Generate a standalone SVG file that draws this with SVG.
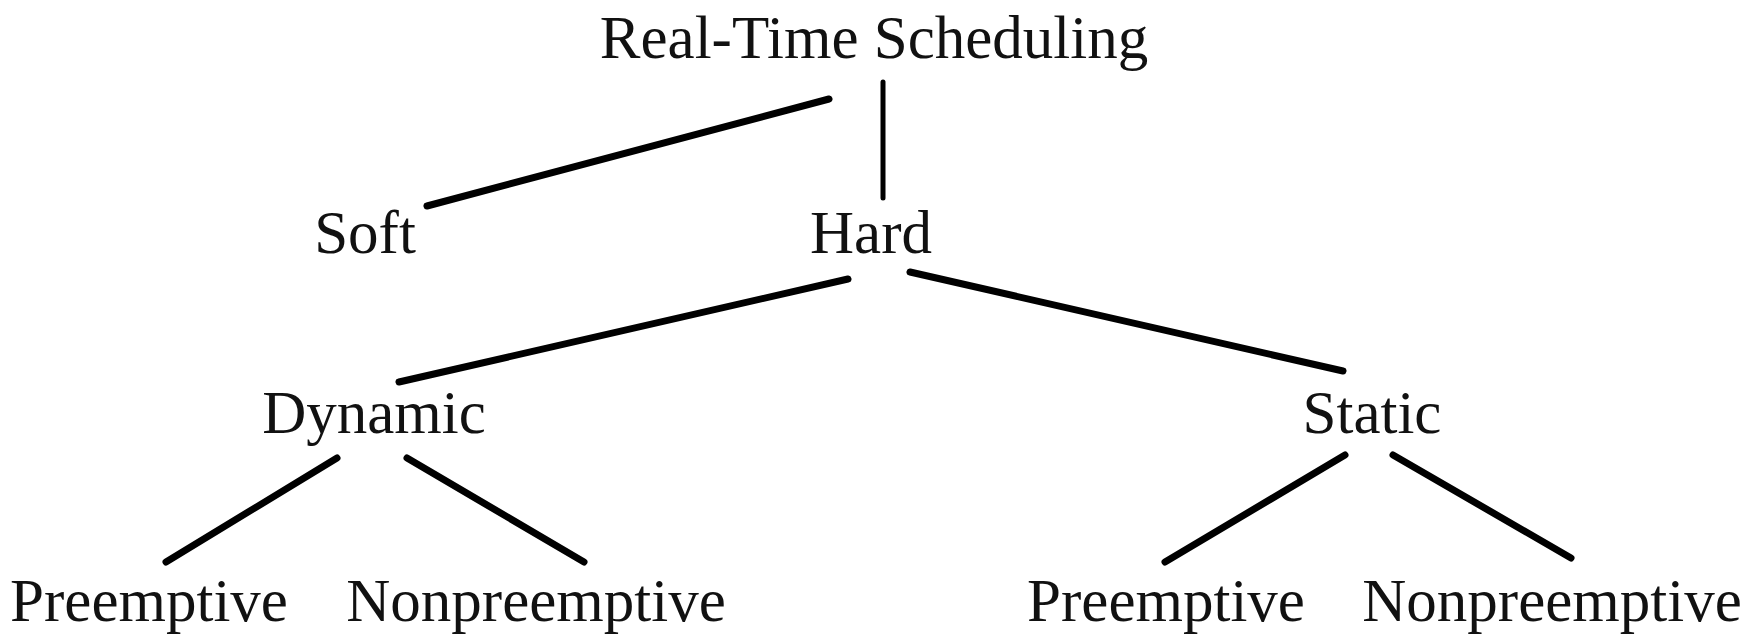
<svg xmlns="http://www.w3.org/2000/svg" width="1762" height="636" viewBox="0 0 1762 636">
<style>
text { font-family: "Liberation Serif", "Times New Roman", serif; font-size: 61px; fill: #111; text-anchor: middle; }
.edge { stroke: #000; stroke-width: 7; stroke-linecap: round; fill: none; }
.thin { stroke-width: 5; }
</style>
<rect width="1762" height="636" fill="#fff"/>
<g id="connectors">
<line class="edge" x1="427" y1="206" x2="829" y2="99"/>
<line class="edge thin" x1="883" y1="82" x2="883" y2="198"/>
<line class="edge" x1="399" y1="382" x2="848" y2="279"/>
<line class="edge" x1="910" y1="272" x2="1343" y2="371"/>
<line class="edge" x1="337" y1="458" x2="166" y2="562"/>
<line class="edge" x1="407" y1="458" x2="584" y2="562"/>
<line class="edge" x1="1345" y1="455" x2="1165" y2="562"/>
<line class="edge" x1="1393" y1="455" x2="1571" y2="558"/>
</g>
<g id="root"><text x="874" y="58">Real-Time Scheduling</text></g>
<g id="soft"><text x="365" y="253">Soft</text></g>
<g id="hard"><text x="871" y="253">Hard</text></g>
<g id="dynamic"><text x="374" y="433">Dynamic</text></g>
<g id="static"><text x="1372" y="433">Static</text></g>
<g id="dyn-preemptive"><text x="149" y="621">Preemptive</text></g>
<g id="dyn-nonpreemptive"><text x="536" y="621">Nonpreemptive</text></g>
<g id="sta-preemptive"><text x="1166" y="621">Preemptive</text></g>
<g id="sta-nonpreemptive"><text x="1552" y="621">Nonpreemptive</text></g>
</svg>
